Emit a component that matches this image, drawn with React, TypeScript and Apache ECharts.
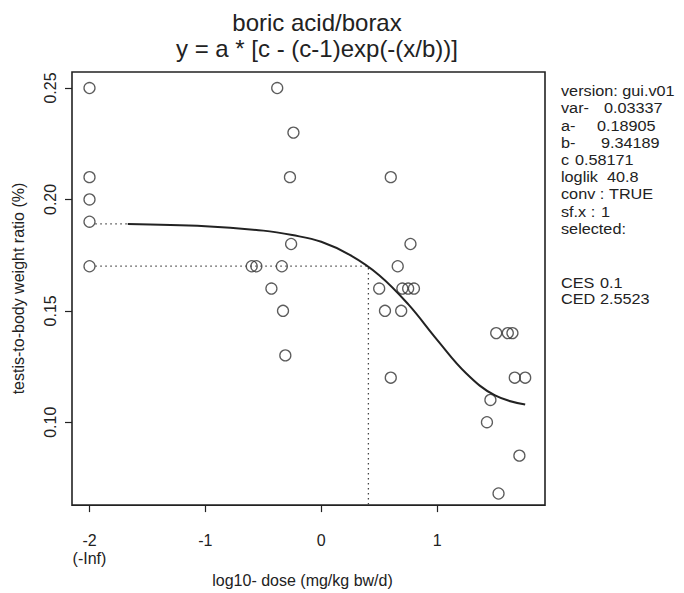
import React, { useEffect, useRef } from "react";
import * as echarts from "echarts";

// observed data: log10 dose (x, -2 = control / -Inf) and testis-to-body weight ratio (%)
const doseLog = [
  -2, -2, -2, -2, -2,
  -0.38, -0.24, -0.27, -0.26, -0.6, -0.56, -0.34, -0.43, -0.33, -0.31,
  0.6, 0.77, 0.66, 0.5, 0.7, 0.75, 0.8, 0.55, 0.69, 0.6,
  1.51, 1.61, 1.65, 1.67, 1.76, 1.46, 1.43, 1.71, 1.53,
];
const ratio = [
  0.25, 0.21, 0.2, 0.19, 0.17,
  0.25, 0.23, 0.21, 0.18, 0.17, 0.17, 0.17, 0.16, 0.15, 0.13,
  0.21, 0.18, 0.17, 0.16, 0.16, 0.16, 0.16, 0.15, 0.15, 0.12,
  0.14, 0.14, 0.14, 0.12, 0.12, 0.11, 0.1, 0.085, 0.068,
];

// fitted curve
const curveX = [-1.67, -1.0, -0.5, -0.25, 0, 0.25, 0.5, 0.75, 1.0, 1.25, 1.5, 1.76];
const curveY = [0.189, 0.188, 0.186, 0.184, 0.181, 0.175, 0.166, 0.153, 0.137, 0.122, 0.112, 0.108];

// reference (dotted) lines
const controlLevel = 0.189;
const controlLineX = [-1.95, -1.67];
const cesLevel = 0.1701;
const cesLineStartX = -1.95;
const cedLog = 0.407; // log10(2.5523)

const xTicks = [-2, -1, 0, 1];
const yTicks = [0.1, 0.15, 0.2, 0.25];
const xMin = -2.151;
const xMax = 1.931;
const yMin = 0.0628;
const yMax = 0.2572;

const titleLines = ["boric acid/borax", "y = a * [c - (c-1)exp(-(x/b))]"];
const infoLabels = ["version: gui.v01", "var-", "a-", "b-", "c", "loglik", "conv :", "sf.x :", "selected:"];
const infoValues = ["", "0.03337", "0.18905", "9.34189", "0.58171", "40.8", "TRUE", "1", ""];
const infoValueX = [0, 604, 597, 601, 575, 607, 609, 601, 0];
const cedLabels = ["CES", "CED"];
const cedValues = ["0.1", "2.5523"];

const FONT = "'Liberation Sans', Arial, Helvetica, sans-serif";
const INK = "#222";

export default function App() {
  const ref = useRef<HTMLDivElement>(null);
  useEffect(() => {
    if (!ref.current) return;
    const chart = echarts.init(ref.current, null, { renderer: "svg" });

    const points = doseLog.map((x, i) => [x, ratio[i]]);
    const curve = curveX.map((x, i) => [x, curveY[i]]);

    const sideText = (text: string, x: number, y: number) => ({
      type: "text", x, y, scaleX: 1.12,
      style: { text, fontSize: 14.5, fontFamily: FONT, fill: INK, textAlign: "left", textVerticalAlign: "middle" },
    });

    const graphics: any[] = [];
    titleLines.forEach((t, i) => {
      graphics.push({
        type: "text",
        x: 317,
        y: 22 + i * 26,
        style: { text: t, fontSize: 24, fontFamily: FONT, fill: INK, textAlign: "center", textVerticalAlign: "middle" },
      });
    });
    infoLabels.forEach((t, i) => {
      const y = 91 + i * 17.2;
      graphics.push(sideText(t, 561, y));
      if (infoValues[i]) graphics.push(sideText(infoValues[i], infoValueX[i], y));
    });
    cedLabels.forEach((t, i) => {
      const y = 283 + i * 16;
      graphics.push(sideText(t, 561, y));
      graphics.push(sideText(cedValues[i], 600, y));
    });

    const dotted = { color: "#444", width: 1.3, type: [1.5, 3.5] as any };

    chart.setOption({
      animation: false,
      backgroundColor: "#fff",
      grid: {
        left: 72, right: 139, top: 72, bottom: 76,
        show: true, borderColor: INK, borderWidth: 1.6, backgroundColor: "transparent",
      },
      xAxis: {
        type: "value", min: xMin, max: xMax,
        axisLine: { show: false, onZero: false },
        splitLine: { show: false },
        axisTick: { show: true, length: 7, customValues: xTicks, lineStyle: { color: INK, width: 1.2 } },
        axisLabel: {
          customValues: xTicks,
          formatter: (v: number) => (Math.abs(v + 2) < 1e-9 ? "-2\n(-Inf)" : String(v)),
          fontSize: 16, lineHeight: 18, color: INK, fontFamily: FONT, margin: 26,
        },
        name: "log10- dose (mg/kg bw/d)",
        nameLocation: "middle", nameGap: 55,
        nameTextStyle: { fontSize: 16, color: INK, fontFamily: FONT, padding: [0, 12, 0, 0] },
      },
      yAxis: {
        type: "value", min: yMin, max: yMax,
        axisLine: { show: false, onZero: false },
        splitLine: { show: false },
        axisTick: { show: true, length: 7, customValues: yTicks, lineStyle: { color: INK, width: 1.2 } },
        axisLabel: {
          customValues: yTicks,
          formatter: (v: number) => v.toFixed(2),
          rotate: 90, fontSize: 16, color: INK, fontFamily: FONT, margin: 14,
        },
        name: "testis-to-body weight ratio (%)",
        nameLocation: "middle", nameGap: 46, nameRotate: 90,
        nameTextStyle: { fontSize: 16, color: INK, fontFamily: FONT },
      },
      series: [
        {
          type: "line", data: controlLineX.map((x) => [x, controlLevel]),
          symbol: "none", lineStyle: dotted, silent: true,
        },
        {
          type: "line", data: [[cesLineStartX, cesLevel], [cedLog, cesLevel], [cedLog, yMin]],
          symbol: "none", lineStyle: dotted, silent: true,
        },
        {
          type: "line", data: curve, smooth: 0.4, symbol: "none",
          lineStyle: { color: INK, width: 2 }, silent: true,
        },
        {
          type: "scatter", data: points, symbol: "circle", symbolSize: 11,
          itemStyle: { color: "rgba(0,0,0,0)", borderColor: "#333", borderWidth: 1.3 },
          silent: true,
        },
      ],
      graphic: graphics,
    });
    return () => chart.dispose();
  }, []);
  return <div ref={ref} style={{ width: 684, height: 593, position: "fixed", top: 0, left: 0 }} />;
}
